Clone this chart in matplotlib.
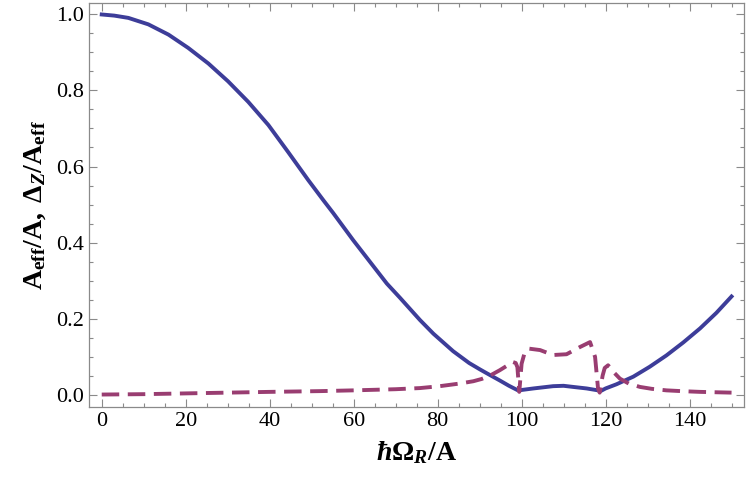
import matplotlib
matplotlib.use("Agg")
import matplotlib.pyplot as plt
from matplotlib.ticker import MultipleLocator, FormatStrFormatter

plt.rcParams.update({
    'font.family': ['Liberation Serif', 'DejaVu Serif'],
    'mathtext.fontset': 'custom',
    'mathtext.rm': 'Liberation Serif',
    'mathtext.it': 'Liberation Serif:italic',
    'mathtext.bf': 'Liberation Serif:bold',
    'mathtext.bfit': 'Liberation Serif:bold:italic',
    'font.size': 16,
})

# A_eff / A (solid blue)
x_aeff = [0, 3, 6.35, 11.1, 15.9, 20.6, 25.4, 30.1, 34.9, 39.7, 44.4, 49.2, 52.8,
          55.1, 59.9, 67.9, 71.0, 75.8, 79.0, 83.7, 87.5, 90.1, 91.7, 94.8, 97,
          99.3, 100, 102.8, 107.5, 110, 112.3, 115.5, 118.2, 118.8, 120, 122.6,
          126.6, 130.5, 134.5, 138.5, 142.5, 146.4, 150]
y_aeff = [1.0, 0.997, 0.991, 0.974, 0.947, 0.912, 0.871, 0.824, 0.770, 0.709, 0.638,
          0.564, 0.511, 0.478, 0.406, 0.292, 0.255, 0.196, 0.160, 0.114, 0.083, 0.066,
          0.056, 0.037, 0.023, 0.010, 0.012, 0.016, 0.022, 0.023, 0.020, 0.016, 0.011,
          0.009, 0.016, 0.027, 0.047, 0.073, 0.103, 0.137, 0.174, 0.215, 0.258]

# Delta_Z / A_eff (dashed purple)
x_dz = [0, 10, 20, 30, 40, 52, 60, 70, 75.8, 80.5, 85.3, 88.5, 90.5, 92.5, 94.8,
        96.4, 97.8, 98.6, 99.0, 99.45, 100, 100.6, 101.6, 104.4, 107.5, 110.7, 113.9,
        116.3, 117.5, 118.2, 118.6, 119.3, 119.8, 120.6, 122, 123.4, 125.5, 128.2,
        131, 134.5, 138, 142.5, 150]
y_dz = [0.0, 0.001, 0.003, 0.005, 0.007, 0.009, 0.011, 0.014, 0.017, 0.022, 0.029,
        0.035, 0.041, 0.050, 0.064, 0.075, 0.086, 0.083, 0.072, 0.007, 0.081, 0.105,
        0.121, 0.117, 0.104, 0.106, 0.125, 0.138, 0.099, 0.016, 0.005, 0.050, 0.070,
        0.077, 0.058, 0.042, 0.029, 0.020, 0.015, 0.011, 0.009, 0.007, 0.005]

blue = '#3d3d99'
purple = '#993d71'

fig = plt.figure(figsize=(7.47, 4.90), dpi=100)
ax = fig.add_axes([0.1196, 0.170, 0.876, 0.8245])

ax.plot(x_aeff, y_aeff, color=blue, lw=2.8, solid_joinstyle='round')
ax.plot(x_dz, y_dz, color=purple, lw=2.8, dashes=(4.5, 2.2), dash_joinstyle='round')

ax.set_xlim(-2.95, 152.9)
ax.set_ylim(-0.032, 1.031)

ax.xaxis.set_major_locator(MultipleLocator(20))
ax.xaxis.set_minor_locator(MultipleLocator(5))
ax.yaxis.set_major_locator(MultipleLocator(0.2))
ax.yaxis.set_minor_locator(MultipleLocator(0.05))
ax.yaxis.set_major_formatter(FormatStrFormatter('%.1f'))

for s in ax.spines.values():
    s.set_color('#8a8a8a')
    s.set_linewidth(0.9)

ax.tick_params(which='both', direction='in', top=True, right=True,
               color='#8a8a8a', width=0.8, labelsize=16)
ax.tick_params(which='major', length=5.5, pad=4)
ax.tick_params(which='minor', length=3)

ax.set_xlabel(r'$\mathbfit{ħ}\mathbf{\Omega}_{\mathbfit{R}}\mathbf{/A}$', fontsize=20, labelpad=6)
ax.set_ylabel(r'$\mathbf{A}_{\mathbf{eff}}\mathbf{/A,\ \Delta}_{\mathbfit{Z}}\mathbf{/A}_{\mathbf{eff}}$',
              fontsize=20, labelpad=6)

fig.savefig('out.png', dpi=100)
